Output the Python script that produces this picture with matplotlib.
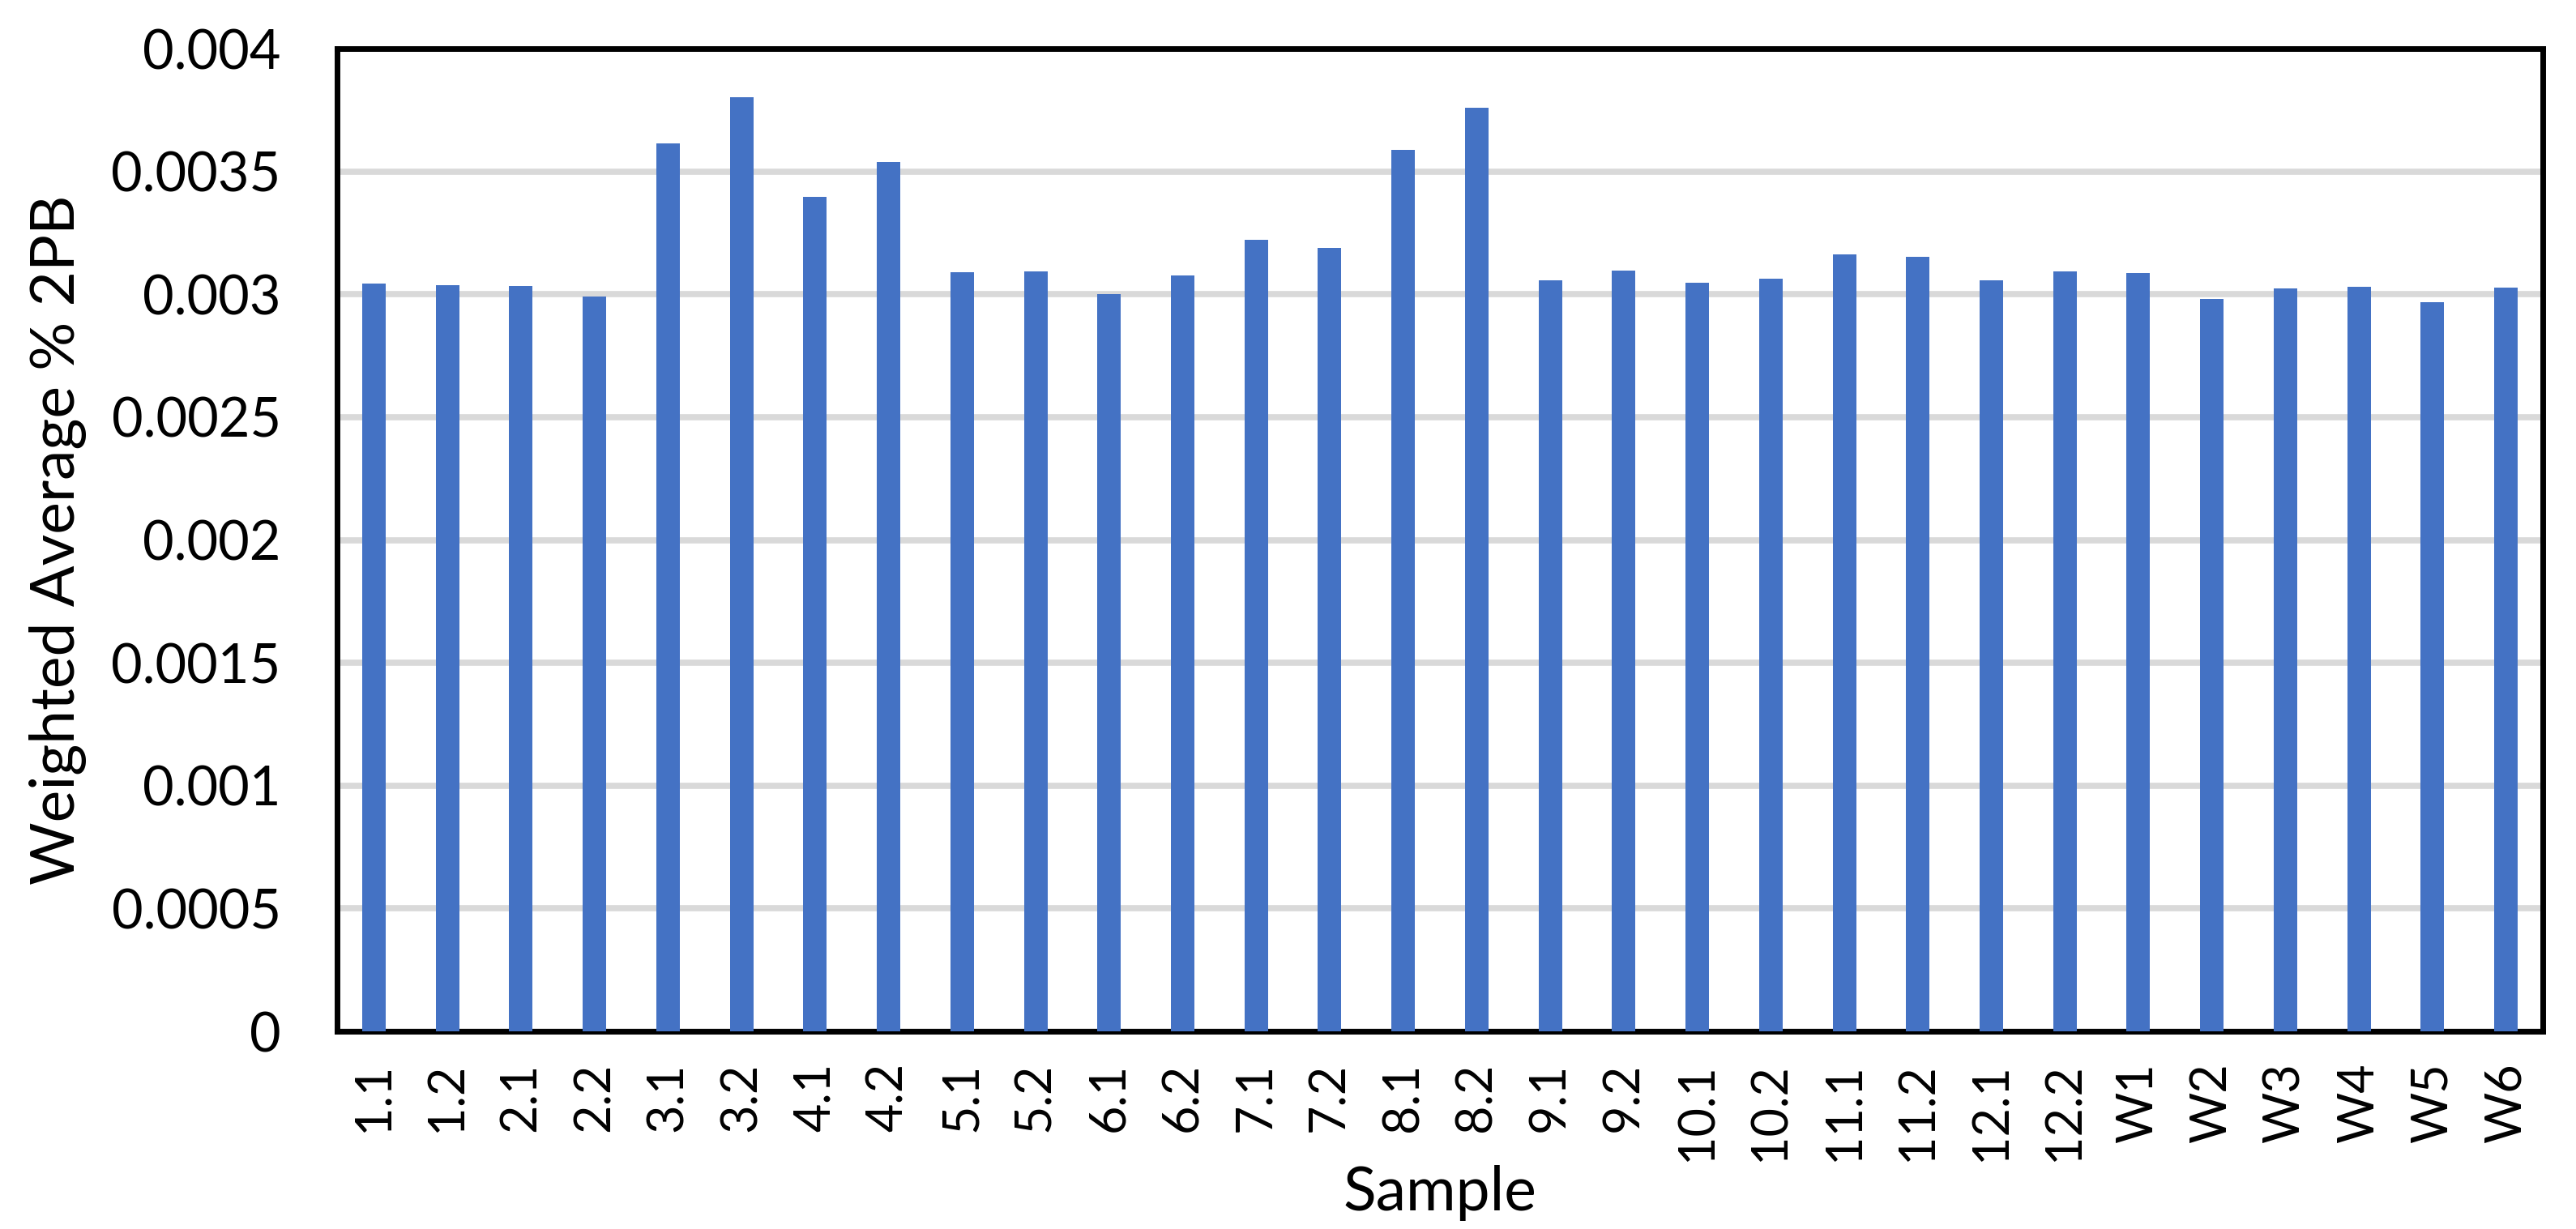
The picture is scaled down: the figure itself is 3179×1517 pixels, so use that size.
import numpy as np
import matplotlib
matplotlib.use("Agg")
import matplotlib.pyplot as plt

plt.rcParams['font.family'] = ['Lato', 'DejaVu Sans']

samples = ["1.1", "1.2", "2.1", "2.2", "3.1", "3.2", "4.1", "4.2", "5.1", "5.2",
           "6.1", "6.2", "7.1", "7.2", "8.1", "8.2", "9.1", "9.2", "10.1", "10.2",
           "11.1", "11.2", "12.1", "12.2", "W1", "W2", "W3", "W4", "W5", "W6"]
wavg_2pb = [0.003045, 0.003038, 0.003035, 0.002992, 0.003614, 0.003801, 0.003397, 0.003538,
            0.003091, 0.003094, 0.003002, 0.003078, 0.003222, 0.003189, 0.003587, 0.003758,
            0.003058, 0.003097, 0.003048, 0.003064, 0.003163, 0.003153, 0.003058, 0.003094,
            0.003087, 0.002982, 0.003025, 0.003031, 0.002969, 0.003028]
yticks = [0, 0.0005, 0.001, 0.0015, 0.002, 0.0025, 0.003, 0.0035, 0.004]
ytick_labels = ["0", "0.0005", "0.001", "0.0015", "0.002", "0.0025", "0.003", "0.0035", "0.004"]

fig = plt.figure(figsize=(31.79, 15.17), dpi=100)
ax = fig.add_axes([0.1309, 0.1608, 0.8562, 0.7996])

x = np.arange(len(samples))
ax.bar(x, wavg_2pb, width=0.32, color="#4472C4", zorder=3)

ax.set_xlim(-0.5, len(samples) - 0.5)
ax.set_ylim(0, 0.004)
ax.set_yticks(yticks)
ax.set_yticklabels(ytick_labels)
ax.set_xticks(x)
ax.set_xticklabels(samples, rotation=90)

ax.yaxis.grid(True, color="#D9D9D9", linewidth=5.5, zorder=0)
ax.set_axisbelow(True)
for s in ax.spines.values():
    s.set_linewidth(5)
    s.set_color("black")

ax.tick_params(axis="y", length=0, pad=50, labelsize=48)
ax.tick_params(axis="x", length=0, pad=28, labelsize=44)

ax.set_xlabel("Sample", fontsize=54, labelpad=4)
ax.set_ylabel("Weighted Average % 2PB", fontsize=54, labelpad=22)

fig.savefig("out.png", dpi=100)
